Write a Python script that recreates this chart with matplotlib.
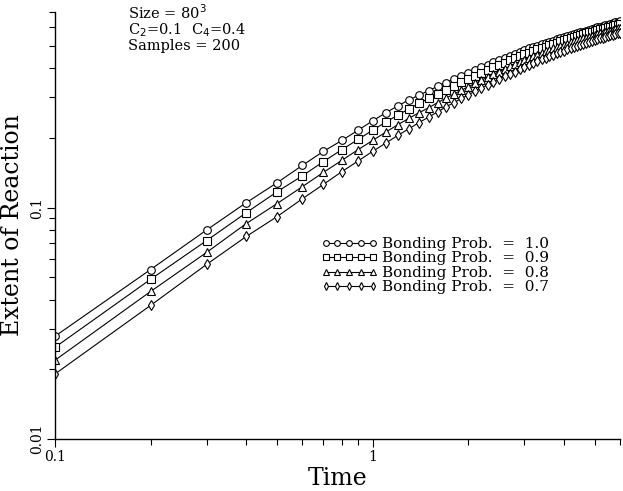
import matplotlib
matplotlib.use("Agg")
import matplotlib.pyplot as plt
from matplotlib.ticker import LogLocator, FixedLocator, FixedFormatter, NullFormatter

plt.rcParams['font.family'] = ['DejaVu Serif']

time = [0.1, 0.2, 0.3, 0.4, 0.5, 0.6, 0.7, 0.8, 0.9, 1.0,
        1.1, 1.2, 1.3, 1.4, 1.5, 1.6, 1.7, 1.8, 1.9, 2.0,
        2.1, 2.2, 2.3, 2.4, 2.5, 2.6, 2.7, 2.8, 2.9, 3.0,
        3.1, 3.2, 3.3, 3.4, 3.5, 3.6, 3.7, 3.8, 3.9, 4.0,
        4.1, 4.2, 4.3, 4.4, 4.5, 4.6, 4.7, 4.8, 4.9, 5.0,
        5.1, 5.2, 5.3, 5.4, 5.5, 5.6, 5.7, 5.8, 5.9, 6.0]

p10 = [0.0278, 0.054, 0.080, 0.105, 0.128, 0.152, 0.175, 0.195, 0.216, 0.237,
       0.257, 0.275, 0.292, 0.306, 0.320, 0.334, 0.347, 0.359, 0.371, 0.382,
       0.393, 0.404, 0.414, 0.424, 0.434, 0.444, 0.453, 0.462, 0.471, 0.480,
       0.487, 0.494, 0.501, 0.508, 0.515, 0.521, 0.527, 0.533, 0.539, 0.545,
       0.550, 0.556, 0.561, 0.566, 0.571, 0.576, 0.581, 0.586, 0.590, 0.595,
       0.600, 0.605, 0.609, 0.614, 0.618, 0.622, 0.627, 0.631, 0.635, 0.640]
p09 = [0.0249, 0.049, 0.072, 0.095, 0.117, 0.137, 0.158, 0.178, 0.197, 0.216,
       0.234, 0.251, 0.267, 0.282, 0.296, 0.310, 0.323, 0.336, 0.348, 0.360,
       0.371, 0.382, 0.393, 0.403, 0.413, 0.423, 0.432, 0.441, 0.450, 0.459,
       0.467, 0.475, 0.482, 0.489, 0.496, 0.503, 0.510, 0.516, 0.522, 0.528,
       0.534, 0.540, 0.545, 0.551, 0.556, 0.561, 0.566, 0.571, 0.576, 0.580,
       0.585, 0.589, 0.593, 0.597, 0.601, 0.605, 0.609, 0.613, 0.617, 0.620]
p08 = [0.0219, 0.0434, 0.064, 0.0853, 0.104, 0.123, 0.142, 0.160, 0.178, 0.195,
       0.212, 0.228, 0.243, 0.257, 0.270, 0.284, 0.297, 0.309, 0.321, 0.333,
       0.344, 0.355, 0.366, 0.377, 0.387, 0.397, 0.407, 0.416, 0.425, 0.434,
       0.442, 0.450, 0.458, 0.466, 0.473, 0.480, 0.487, 0.493, 0.499, 0.505,
       0.511, 0.517, 0.522, 0.528, 0.533, 0.538, 0.543, 0.548, 0.553, 0.557,
       0.562, 0.566, 0.570, 0.574, 0.578, 0.582, 0.586, 0.590, 0.594, 0.597]
p07 = [0.0191, 0.0378, 0.0568, 0.075, 0.0914, 0.109, 0.126, 0.143, 0.159, 0.175,
       0.190, 0.205, 0.219, 0.233, 0.246, 0.259, 0.272, 0.284, 0.296, 0.307,
       0.318, 0.329, 0.339, 0.349, 0.359, 0.369, 0.378, 0.387, 0.396, 0.405,
       0.413, 0.421, 0.429, 0.437, 0.444, 0.451, 0.458, 0.465, 0.471, 0.477,
       0.483, 0.489, 0.495, 0.500, 0.505, 0.510, 0.515, 0.520, 0.525, 0.530,
       0.534, 0.539, 0.543, 0.547, 0.551, 0.555, 0.559, 0.563, 0.566, 0.570]

labels = ["Bonding Prob.  =  1.0", "Bonding Prob.  =  0.9",
          "Bonding Prob.  =  0.8", "Bonding Prob.  =  0.7"]
markers = ['o', 's', '^', 'd']
series = [p10, p09, p08, p07]

fig = plt.figure(figsize=(6.23, 4.91), dpi=100)
ax = fig.add_axes([0.0883, 0.1059, 0.9067, 0.8697])

for ys, m, lab in zip(series, markers, labels):
    ax.plot(time, ys, color='black', lw=0.8, marker=m, markersize=5.5,
            markerfacecolor='white', markeredgecolor='black',
            markeredgewidth=0.8, label=lab)

ax.set_xscale('log')
ax.set_yscale('log')
ax.set_xlim(0.1, 6.0)
ax.set_ylim(0.01, 0.7)

for s in ['top', 'right']:
    ax.spines[s].set_visible(False)
for s in ['left', 'bottom']:
    ax.spines[s].set_linewidth(1.0)

ax.xaxis.set_major_locator(FixedLocator([0.1, 1]))
ax.xaxis.set_major_formatter(FixedFormatter(['0.1', '1']))
ax.xaxis.set_minor_locator(LogLocator(base=10, subs=range(2, 10)))
ax.xaxis.set_minor_formatter(NullFormatter())
ax.yaxis.set_major_locator(FixedLocator([0.01, 0.1]))
ax.yaxis.set_major_formatter(FixedFormatter(['0.01', '0.1']))
ax.yaxis.set_minor_locator(LogLocator(base=10, subs=range(2, 10)))
ax.yaxis.set_minor_formatter(NullFormatter())
ax.tick_params(which='major', direction='out', length=6, width=0.8, labelsize=10, pad=2)
ax.tick_params(which='minor', direction='out', length=4, width=0.8)
for t in ax.get_yticklabels():
    t.set_rotation(90)
    t.set_va('center')

ax.set_xlabel('Time', fontsize=17, labelpad=2)
ax.set_ylabel('Extent of Reaction', fontsize=17, labelpad=4)

ax.text(0.205, 0.993, 'Size = 80$^3$\nC$_2$=0.1  C$_4$=0.4\nSamples = 200',
        transform=fig.transFigure, fontsize=10.5, va='top', ha='left',
        linespacing=0.95)

ax.legend(loc='upper left', bbox_to_anchor=(0.503, 0.533), bbox_transform=fig.transFigure,
          frameon=False, numpoints=5, markerscale=0.75, handlelength=3.7,
          handletextpad=0.3, labelspacing=0.03, fontsize=11, borderpad=0)

fig.savefig('out.png', dpi=100)
